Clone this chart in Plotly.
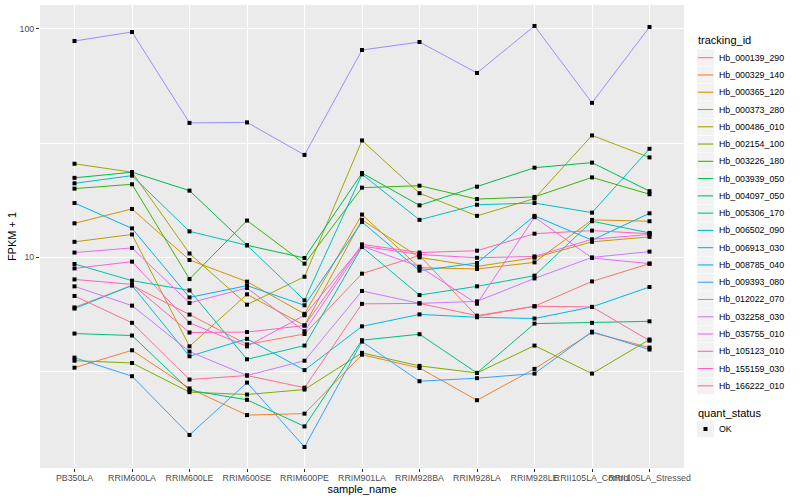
import plotly.graph_objects as go

samples = ["PB350LA", "RRIM600LA", "RRIM600LE", "RRIM600SE", "RRIM600PE",
           "RRIM901LA", "RRIM928BA", "RRIM928LA", "RRIM928LE",
           "RRII105LA_Control", "RRII105LA_Stressed"]

tracking_ids = ["Hb_000139_290", "Hb_000329_140", "Hb_000365_120", "Hb_000373_280",
                "Hb_000486_010", "Hb_002154_100", "Hb_003226_180", "Hb_003939_050",
                "Hb_004097_050", "Hb_005306_170", "Hb_006502_090", "Hb_006913_030",
                "Hb_008785_040", "Hb_009393_080", "Hb_012022_070", "Hb_032258_030",
                "Hb_035755_010", "Hb_105123_010", "Hb_155159_030", "Hb_166222_010"]

colors = ["#F8766D", "#EA8331", "#D89000", "#C09B00", "#A3A500", "#7CAE00",
          "#39B600", "#00BB4E", "#00BF7D", "#00C1A3", "#00BFC4", "#00BAE0",
          "#00B0F6", "#35A2FF", "#9590FF", "#C77CFF", "#E76BF3", "#FA62DB",
          "#FF62BC", "#FF6C91"]

# FPKM + 1 per sample, one list per tracking_id
hb_000139_290 = [6.04, 7.54, 5.62, 4.16, 4.62, 8.49, 10.2, 5.52, 6.11, 7.85, 9.39]
hb_000329_140 = [3.29, 3.92, 2.67, 2.04, 2.07, 3.75, 3.28, 2.37, 3.25, 4.69, 4.03]
hb_000365_120 = [14.1, 16.3, 9.74, 7.83, 5.66, 15.4, 9.01, 8.90, 9.51, 14.6, 14.4]
hb_000373_280 = [11.7, 12.6, 4.08, 6.89, 5.04, 14.6, 10.0, 9.13, 9.97, 11.7, 12.3]
hb_000486_010 = [25.7, 23.6, 10.4, 6.21, 8.23, 32.5, 19.1, 15.2, 18.1, 34.2, 27.4]
hb_002154_100 = [3.53, 3.45, 2.57, 2.51, 2.64, 3.82, 3.35, 3.12, 4.11, 3.10, 4.37]
hb_003226_180 = [20.0, 20.9, 8.04, 14.5, 9.39, 20.2, 20.6, 18.0, 18.4, 22.4, 18.9]
hb_003939_050 = [22.3, 23.6, 19.6, 11.3, 9.94, 23.4, 16.9, 20.4, 24.7, 26.0, 19.5]
hb_004097_050 = [4.64, 4.55, 2.62, 2.38, 1.82, 4.34, 4.61, 3.12, 5.13, 5.17, 5.25]
hb_005306_170 = [9.36, 7.91, 7.17, 3.58, 4.11, 11.1, 6.84, 7.47, 8.32, 14.4, 12.8]
hb_006502_090 = [21.1, 22.8, 13.0, 11.3, 6.49, 23.1, 14.6, 17.0, 17.3, 15.7, 29.9]
hb_006913_030 = [5.97, 7.54, 3.69, 4.40, 3.21, 4.99, 5.63, 5.47, 5.40, 6.07, 7.42]
hb_008785_040 = [17.3, 13.4, 6.68, 7.52, 6.17, 14.3, 8.75, 9.45, 15.2, 11.9, 15.6]
hb_009393_080 = [3.64, 3.02, 1.67, 2.83, 1.48, 4.28, 2.87, 2.96, 3.10, 4.73, 3.95]
hb_012022_070 = [88.6, 97.0, 38.8, 39.0, 28.1, 80.9, 87.7, 64.2, 103.1, 47.5, 102.0]
hb_032258_030 = [7.47, 6.15, 3.87, 3.04, 3.53, 7.13, 6.29, 6.42, 8.09, 10.0, 10.6]
hb_035755_010 = [10.5, 11.0, 6.32, 7.35, 4.75, 11.2, 9.11, 6.27, 15.0, 9.94, 9.39]
hb_105123_010 = [8.95, 9.58, 5.17, 4.08, 5.58, 11.2, 10.3, 9.96, 10.1, 12.0, 12.6]
hb_155159_030 = [8.01, 7.62, 4.69, 4.71, 5.03, 11.4, 10.5, 10.7, 12.7, 13.1, 12.7]
hb_166222_010 = [6.78, 5.17, 2.92, 3.04, 2.69, 6.26, 6.29, 5.56, 6.11, 6.07, 4.32]

series = [hb_000139_290, hb_000329_140, hb_000365_120, hb_000373_280, hb_000486_010,
          hb_002154_100, hb_003226_180, hb_003939_050, hb_004097_050, hb_005306_170,
          hb_006502_090, hb_006913_030, hb_008785_040, hb_009393_080, hb_012022_070,
          hb_032258_030, hb_035755_010, hb_105123_010, hb_155159_030, hb_166222_010]

quant_status = "OK"

FONT = "Liberation Sans, Arial, sans-serif"
W, H = 800, 500
ML, MR, MT, MB = 40, 116, 5, 32
PW, PH = W - ML - MR, H - MT - MB


def px(x):
    return (x - ML) / PW


def py(y):
    return (H - MB - y) / PH


fig = go.Figure()
for name, col, vals in zip(tracking_ids, colors, series):
    fig.add_trace(go.Scatter(
        x=samples, y=vals, mode="lines", name=name,
        line=dict(color=col, width=1), showlegend=False,
    ))

all_x = [s for vals in series for s in samples]
all_y = [v for vals in series for v in vals]
fig.add_trace(go.Scatter(
    x=all_x, y=all_y, mode="markers", name=quant_status,
    marker=dict(symbol="square", size=4, color="black"),
    showlegend=False,
))

# ---- legend drawn in ggplot style ----
shapes, annots = [], []
LEG_X = 696
KEY_L, KEY_R = 697, 714
STEP = 17.27
FIRST = 57.7

annots.append(dict(text="tracking_id", x=px(LEG_X), y=py(39.5), xref="paper", yref="paper",
                   xanchor="left", yanchor="middle", showarrow=False,
                   font=dict(size=11, color="black", family=FONT)))
for i, (name, col) in enumerate(zip(tracking_ids, colors)):
    cy = FIRST + i * STEP
    shapes.append(dict(type="rect", xref="paper", yref="paper",
                       x0=px(KEY_L), x1=px(KEY_R), y0=py(cy - 8.4), y1=py(cy + 8.4),
                       fillcolor="#F2F2F2", line=dict(width=0), layer="above"))
    shapes.append(dict(type="line", xref="paper", yref="paper",
                       x0=px(KEY_L + 0.8), x1=px(KEY_R - 0.8), y0=py(cy), y1=py(cy),
                       line=dict(color=col, width=1.1), layer="above"))
    annots.append(dict(text=name, x=px(716.5), y=py(cy), xref="paper", yref="paper",
                       xanchor="left", yanchor="middle", showarrow=False,
                       font=dict(size=8.8, color="black", family=FONT)))

annots.append(dict(text="quant_status", x=px(LEG_X), y=py(412.5), xref="paper", yref="paper",
                   xanchor="left", yanchor="middle", showarrow=False,
                   font=dict(size=11, color="black", family=FONT)))
ok_y = 429
shapes.append(dict(type="rect", xref="paper", yref="paper",
                   x0=px(KEY_L), x1=px(KEY_R), y0=py(ok_y - 8.4), y1=py(ok_y + 8.4),
                   fillcolor="#F2F2F2", line=dict(width=0), layer="above"))
shapes.append(dict(type="rect", xref="paper", yref="paper",
                   x0=px(703.5), x1=px(707.5), y0=py(ok_y - 2), y1=py(ok_y + 2),
                   fillcolor="black", line=dict(width=0), layer="above"))
annots.append(dict(text=quant_status, x=px(716.5), y=py(ok_y), xref="paper", yref="paper",
                   xanchor="left", yanchor="middle", showarrow=False,
                   font=dict(size=8.8, color="black", family=FONT)))

fig.update_layout(
    width=W, height=H,
    margin=dict(l=ML, r=MR, t=MT, b=MB, autoexpand=False),
    paper_bgcolor="white", plot_bgcolor="#EBEBEB",
    font=dict(family=FONT, color="black"),
    showlegend=False,
    shapes=shapes, annotations=annots,
)

fig.update_xaxes(
    type="category", categoryorder="array", categoryarray=samples,
    range=[-0.6, len(samples) - 0.4], automargin=False,
    showgrid=True, gridcolor="white", gridwidth=1.1,
    ticks="outside", ticklen=3, tickcolor="#333333", tickwidth=1,
    tickangle=0, tickfont=dict(size=8.8, color="#4D4D4D"),
    ticklabelstandoff=-2,
    title=dict(text="sample_name", font=dict(size=11, color="black"), standoff=0),
    zeroline=False, showline=False,
)

fig.update_yaxes(
    type="log", range=[0.078, 2.105], automargin=False,
    tickvals=[10, 100], ticktext=["10", "100"],
    showgrid=True, gridcolor="white", gridwidth=1.1,
    minor=dict(tickvals=[10 ** 0.5, 10 ** 1.5], showgrid=True,
               gridcolor="white", gridwidth=0.55, ticks=""),
    ticks="outside", ticklen=3, tickcolor="#333333", tickwidth=1,
    tickfont=dict(size=8.8, color="#4D4D4D"),
    title=dict(text="FPKM + 1", font=dict(size=11, color="black"), standoff=0),
    zeroline=False, showline=False,
)

fig.write_html("out.html", config={"displayModeBar": False},
               post_script="document.body.style.margin='0px';document.body.style.padding='0px';")
